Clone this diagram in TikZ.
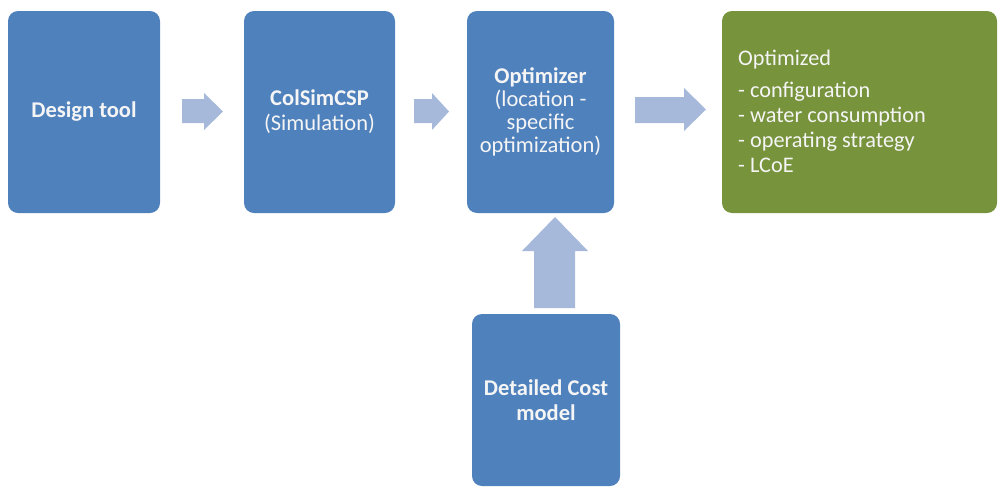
\documentclass[tikz,border=0pt]{standalone}
\usepackage{fontspec}
\setmainfont{Carlito}
\definecolor{boxblue}{RGB}{79,129,189}
\definecolor{boxgreen}{RGB}{119,147,60}
\definecolor{arrowblue}{RGB}{167,185,218}
\definecolor{txt}{RGB}{245,245,245}
\begin{document}
\begin{tikzpicture}[x=1pt,y=-1pt,
  bluebox/.style={fill=boxblue, draw=none, rounded corners=10pt, text=txt, align=center, inner sep=0pt,
    font=\fontsize{22.5}{25}\selectfont},
  greenbox/.style={fill=boxgreen, draw=none, rounded corners=10pt, inner sep=0pt},
  listtext/.style={text=txt, anchor=base west, inner sep=0pt, font=\fontsize{22.3}{25}\selectfont},
  blockarrow/.style={fill=arrowblue, draw=none}]
\useasboundingbox (0,0) rectangle (998,488);
\node[bluebox, minimum width=152pt, minimum height=202pt] (design) at (84,112) {\textbf{Design tool}};
\node[bluebox, minimum width=151pt, minimum height=202pt] (colsim) at (319.5,112) {\textbf{ColSimCSP}\\(Simulation)};
\node[bluebox, minimum width=147pt, minimum height=202pt, font=\fontsize{22.5}{23}\selectfont] (optim) at (540.5,112) {\textbf{Optimizer}\\(location -\\specific\\optimization)};
\node[greenbox, minimum width=275pt, minimum height=202pt] (result) at (859.5,112) {};
\node[bluebox, minimum width=148pt, minimum height=172pt] (cost) at (546,400) {\textbf{Detailed Cost}\\\textbf{model}};
\node[listtext] (l0) at (738,65) {Optimized};
\node[listtext] (l1) at (738,97) {- configuration};
\node[listtext] (l2) at (738,122) {- water consumption};
\node[listtext] (l3) at (738,147) {- operating strategy};
\node[listtext] (l4) at (738,172) {- LCoE};
% block arrows
\fill[blockarrow] (182,99) -- (204,99) -- (204,93) -- (223,111.5) -- (204,130) -- (204,123) -- (182,123) -- cycle;
\fill[blockarrow] (414,99) -- (432,99) -- (432,93) -- (449,111.5) -- (432,130) -- (432,123) -- (414,123) -- cycle;
\fill[blockarrow] (635,97) -- (684,97) -- (684,88) -- (706,109.5) -- (684,131) -- (684,123) -- (635,123) -- cycle;
\fill[blockarrow] (534,308) -- (534,251) -- (522,251) -- (555,217) -- (588,251) -- (575,251) -- (575,308) -- cycle;
\end{tikzpicture}
\end{document}
